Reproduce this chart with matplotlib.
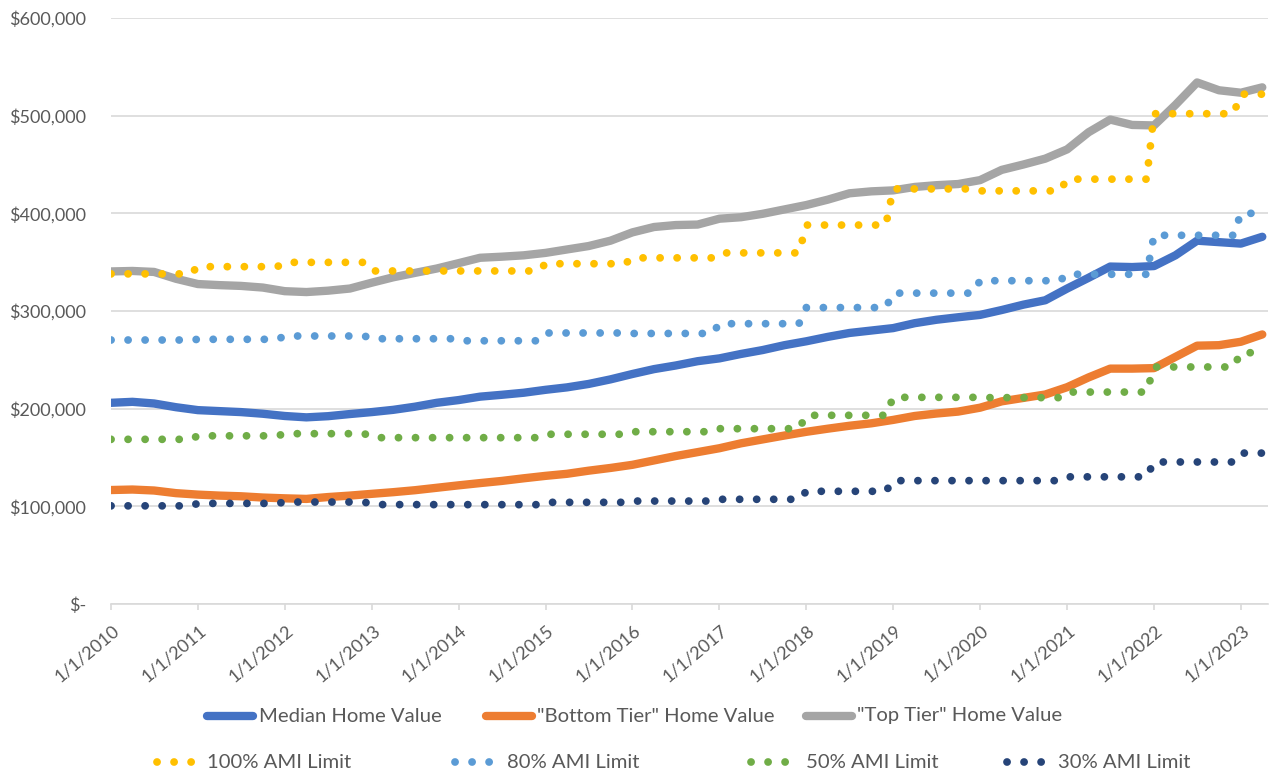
import numpy as np
import pandas as pd
import matplotlib
matplotlib.use("Agg")
import matplotlib.pyplot as plt
import matplotlib.dates as mdates
from matplotlib.lines import Line2D
from matplotlib.ticker import FuncFormatter, MultipleLocator
from matplotlib.transforms import ScaledTranslation

# home values, read quarterly (Jan, Apr, Jul, Oct), $ thousands
quarters = pd.date_range("2010-01-01", "2023-04-01", freq="QS")
median_value = [206, 207, 205.3, 201.5, 198.5, 197.5, 196.5, 194.8,
                192.5, 191.1, 192.3, 194.5, 196.5, 198.8, 202, 206,
                208.8, 212.3, 214.2, 216.3, 219.3, 221.8, 225.3, 230,
                235.5, 240.5, 244.2, 248.6, 251.5, 256, 260, 265,
                269, 273.5, 277.5, 280, 282.5, 287.5, 291, 293.6,
                296, 301, 306.5, 311, 323, 334, 345.5, 345,
                346, 357, 372, 370.5, 369, 376]
bottom_value = [116.7, 117.2, 116.2, 113.5, 112, 111, 110.3, 109,
                108.2, 107.6, 109.5, 111, 112.8, 114.5, 116.5, 119,
                121.5, 123.8, 126, 128.7, 131.2, 133.3, 136.5, 139.3,
                142.5, 147, 151.5, 155.5, 159.5, 164.5, 168.5, 172.5,
                176.3, 179.5, 182.5, 185, 188.5, 192.5, 195, 197,
                201, 207.5, 211, 214.5, 222, 232, 241, 241,
                241.5, 253, 264.5, 265, 268.5, 276]
top_value = [340.5, 341, 340, 333, 327.6, 326.5, 325.7, 324,
             320.3, 319.4, 320.8, 323, 329, 334.5, 339, 343.5,
             349, 354.5, 355.6, 357, 359.5, 363, 366.5, 372,
             380.5, 386, 388, 388.5, 394.5, 396, 399.5, 404,
             408.5, 414, 420.5, 422.5, 423.5, 427, 428.8, 430,
             434, 444.5, 450, 456, 465.5, 483, 496, 490.5,
             490, 511, 534, 526, 523.5, 529]

# AMI income limits, one value per year 2010-2023, $ thousands
years = list(range(2010, 2024))
ami_100 = [338, 345.4, 349.8, 341, 341, 348.4, 354.4, 359.5, 388, 425, 423, 435, 502, 522]
ami_80 = [270.3, 271, 274.4, 271.6, 269.5, 277.5, 277, 287, 303.5, 318.3, 331, 337.6, 377.5, 400]
ami_50 = [168.6, 172.2, 174.4, 170.3, 170.3, 173.8, 176.4, 179.5, 193.2, 211.6, 211.3, 217, 242.7, 257.3]
ami_30 = [100.5, 103, 104.4, 101.8, 101.7, 104.1, 105.4, 107.2, 115.4, 126.3, 126.3, 130.2, 145.4, 154.5]

# limits apply for every month of their year
months = pd.date_range("2010-01-01", "2023-04-01", freq="MS")
n = len(months)

line_series = [
    ("Median Home Value", median_value, "#4472C4"),
    ('"Bottom Tier" Home Value', bottom_value, "#ED7D31"),
    ('"Top Tier" Home Value', top_value, "#A5A5A5"),
]
dot_series = [
    ("100% AMI Limit", ami_100, "#FFC000"),
    ("80% AMI Limit", ami_80, "#5B9BD5"),
    ("50% AMI Limit", ami_50, "#70AD47"),
    ("30% AMI Limit", ami_30, "#264478"),
]

plt.rcParams["font.family"] = ["Lato", "DejaVu Sans"]
text_color = "#595959"
grid_color = "#D9D9D9"

W, H = 1270, 772
fig = plt.figure(figsize=(W / 100, H / 100), dpi=100)
ax = fig.add_axes([111 / W, 1 - 604 / H, 1157 / W, 586 / H])

thick = 6.0
dot_lw = 5.6
dot_style = (0, (0.01, 2.18))

for label, vals, color in line_series:
    ax.plot(quarters, np.array(vals) * 1000, color=color, lw=thick,
            solid_capstyle="round", solid_joinstyle="round", label=label)

for label, vals, color in dot_series:
    monthly = np.repeat(np.array(vals) * 1000, 12)[:n]
    ax.plot(months, monthly, color=color, lw=dot_lw, linestyle=dot_style,
            dash_capstyle="round", label=label)

ax.set_ylim(0, 600000)
ax.set_xlim(pd.Timestamp("2010-01-01"), pd.Timestamp("2023-04-25"))
ax.yaxis.set_major_locator(MultipleLocator(100000))
ax.yaxis.set_major_formatter(FuncFormatter(
    lambda v, p: "$-" if v == 0 else f"${v:,.0f}"))
ax.xaxis.set_major_locator(mdates.YearLocator())
ax.xaxis.set_major_formatter(FuncFormatter(
    lambda v, p: "{d.month}/{d.day}/{d.year}".format(d=mdates.num2date(v))))

ax.grid(axis="y", color=grid_color, lw=1.2)
ax.set_axisbelow(True)
for side in ["top", "right", "left"]:
    ax.spines[side].set_visible(False)
ax.spines["bottom"].set_color(grid_color)
ax.spines["bottom"].set_linewidth(1.2)
ax.tick_params(axis="y", length=0, pad=18, labelsize=13, labelcolor=text_color)
ax.tick_params(axis="x", length=4.3, width=1.2, color=grid_color, pad=13,
               labelsize=13, labelcolor=text_color)
shift = ScaledTranslation(6 / 100, 0, fig.dpi_scale_trans)
for lab in ax.get_xticklabels():
    lab.set_rotation(40)
    lab.set_ha("right")
    lab.set_va("center")
    lab.set_rotation_mode("anchor")
    lab.set_transform(lab.get_transform() + shift)


def fx(px):
    return px / W


def fy(py):
    return 1 - py / H


# legend, drawn in two rows as in the source chart
legend_size = 14.6
row1 = [(203, 257, 259), (482, 536, 537), (802, 856, 857)]
for (x0, x1, tx), (label, _, color) in zip(row1, line_series):
    fig.add_artist(Line2D([fx(x0 + 4), fx(x1 - 4)], [fy(716), fy(716)],
                          color=color, lw=thick, solid_capstyle="round"))
    fig.text(fx(tx), fy(716), label, ha="left", va="center",
             fontsize=legend_size, color=text_color)

row2 = [(157, 192, 207), (455, 492, 507), (751, 790, 806), (1007, 1043, 1058)]
for (x0, x1, tx), (label, _, color) in zip(row2, dot_series):
    fig.add_artist(Line2D([fx(x0), fx(x1)], [fy(762), fy(762)], color=color,
                          lw=dot_lw, linestyle=dot_style, dash_capstyle="round"))
    fig.text(fx(tx), fy(762), label, ha="left", va="center",
             fontsize=legend_size, color=text_color)

fig.savefig("out.png", dpi=100)
